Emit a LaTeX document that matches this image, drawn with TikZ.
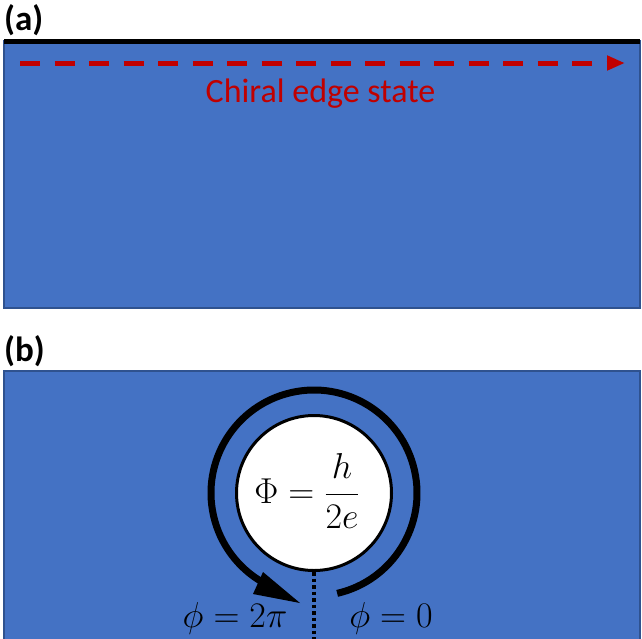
\RequirePackage{fix-cm}
\documentclass[tikz,border=0pt]{standalone}
\usepackage{amsmath}
\usepackage[no-math]{fontspec}
\newfontfamily\calibri{Carlito}
\usetikzlibrary{arrows.meta,calc}
\definecolor{panelblue}{HTML}{4472C4}
\definecolor{panelborder}{HTML}{2F528F}
\definecolor{edgered}{HTML}{C00000}
\begin{document}
\begin{tikzpicture}[x=1pt,y=-1pt,
  panel/.style={fill=panelblue,draw=panelborder,line width=1.2pt},
  lbl/.style={font=\calibri\bfseries\fontsize{35}{40}\selectfont,anchor=base west,inner sep=0pt},
  mathlbl/.style={font=\fontsize{36}{42}\selectfont,anchor=base,inner sep=0pt},
  thickarc/.style={line width=7pt},
  dotline/.style={line width=3.5pt,dash pattern=on 3.5pt off 3pt},
]
\useasboundingbox (0,0) rectangle (642,638);
\fill[white] (0,0) rectangle (642,638);
% panel (a)
\node[lbl] (la) at (4,30) {(a)};
\draw[panel] (4,41) rectangle (640,308);
\draw[line width=5pt] (4,41) -- (640,41);
\coordinate (ds) at (20,63);
\coordinate (de) at (625,63);
\draw[edgered,line width=5pt,dash pattern=on 20pt off 14.5pt,-{Triangle[length=18pt,width=14pt]}] (ds) -- (de);
\node[font=\calibri\fontsize{34}{40}\selectfont,text=edgered,anchor=base,inner sep=0pt] (ces) at (320.5,102) {Chiral edge state};
% panel (b)
\node[lbl] (lb) at (4,361) {(b)};
\draw[panel] (4,371) rectangle (640,650);
\node[circle,fill=white,draw=black,line width=3pt,minimum size=155pt,inner sep=0pt] (hole) at (314,493) {};
\node[mathlbl,anchor=center] (flux) at (307,491) {$\Phi = \dfrac{h}{2e}$};
\draw[thickarc] ($(hole.center)+(77:103)$) arc[start angle=77,end angle=-240,radius=103];
\coordinate (tip) at (300,603);
\coordinate (c1) at (263,572);
\coordinate (c2) at (253,594);
\fill (tip) -- (c1) -- (c2) -- cycle;
\coordinate (bot) at (314,640);
\draw[dotline] (hole.south) -- (bot);
\node[mathlbl] (p2) at (235,627) {$\phi = 2\pi$};
\node[mathlbl] (p0) at (391,627) {$\phi = 0$};
\end{tikzpicture}
\end{document}
